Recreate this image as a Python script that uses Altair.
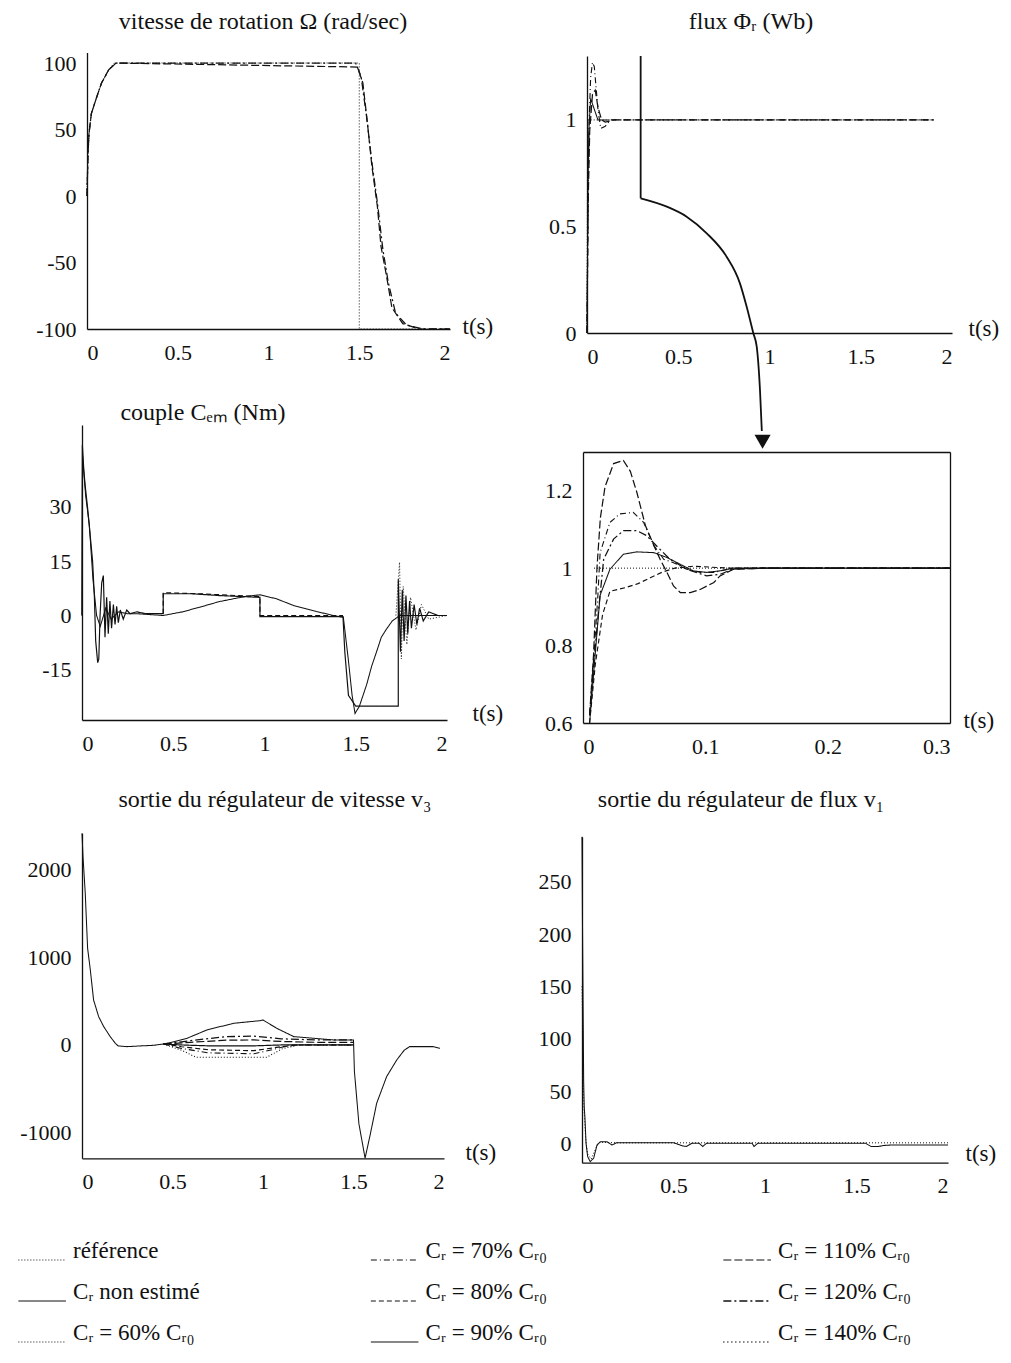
import altair as alt
import pandas as pd

FONT = "Liberation Serif"
INK = "#111111"
H = 1363
W = 1011

# ---------------- series styles ----------------
SERIES_KEYS = ["ref", "nonest", "60", "70", "80", "90", "110", "120", "140"]
SERIES_DASH = [[1, 2], [1, 0], [1, 2], [6, 3, 1, 3], [5, 3], [1, 0], [8, 3], [8, 3, 2, 3], [1, 3]]
SERIES_WIDTH = [1.0, 1.3, 1.0, 1.1, 1.1, 2.2, 1.1, 1.1, 1.0]

# ---------------- titles ----------------
TITLE_TL = "vitesse de rotation Ω (rad/sec)"
TITLE_TR = "flux  Φᵣ  (Wb)"
TITLE_ML = "couple Cₑₘ  (Nm)"
TITLE_BL = "sortie du régulateur de vitesse  v₃"
TITLE_BR = "sortie du régulateur de flux  v₁"

# ---------------- vitesse Ω ----------------
OM_REF_T = [0, 0.005, 0.011, 0.024, 0.05, 0.08, 0.12, 0.15, 1.5, 1.5, 2.0]
OM_REF_V = [0, 30, 47, 62, 73, 85, 95, 100, 100, -100, -100]
OM_110_T = [0, 0.005, 0.011, 0.024, 0.05, 0.08, 0.12, 0.16, 1.49, 1.52, 1.545, 1.57, 1.6, 1.62, 1.65, 1.68, 1.74, 1.83, 2.0]
OM_110_V = [0, 30, 47, 62, 73, 85, 95, 100, 97, 85, 55, 22, -8, -38, -60, -84, -96, -100, -100]
OM_120_T = [0, 0.005, 0.011, 0.024, 0.05, 0.08, 0.12, 0.16, 1.48, 1.51, 1.54, 1.57, 1.6, 1.63, 1.66, 1.7, 1.76, 1.85, 2.0]
OM_120_V = [0, 30, 47, 62, 73, 85, 95, 100, 100, 90, 60, 25, -5, -40, -65, -88, -97, -100, -100]

# ---------------- flux Φr ----------------
PHI_REF_T = [0, 0.004, 1.9]
PHI_REF_V = [0, 1.0, 1.0]
PHI_NONEST_T = [0, 0.003, 0.006, 0.01, 0.02, 0.04, 0.06, 0.1, 0.12]
PHI_NONEST_V = [0, 0.4, 0.7, 0.95, 1.1, 1.05, 1.0, 1.0, 1.0]
PHI_70_T = [0, 0.006, 0.012, 0.02, 0.03, 0.04, 0.05, 0.06, 0.075, 0.1, 0.13, 1.9]
PHI_70_V = [0, 0.6, 1.0, 1.2, 1.27, 1.25, 1.15, 1.05, 0.96, 0.97, 1.0, 1.0]
PHI_110_T = [0, 0.006, 0.015, 0.03, 0.045, 0.06, 0.08, 0.1, 0.15, 1.9]
PHI_110_V = [0, 0.6, 0.95, 1.12, 1.14, 1.06, 1.0, 0.99, 1.0, 1.0]
ZOOM_BAR_T = [0.294, 0.294]
ZOOM_BAR_V = [1.3, 0.632]
ZOOM_T = [0.294, 0.437, 0.546, 0.656, 0.765, 0.838, 0.875, 0.911, 0.93, 0.948, 0.958]
ZOOM_V = [0.632, 0.593, 0.546, 0.468, 0.358, 0.233, 0.123, 0.0, -0.064, -0.27, -0.46]
ARROW_T = [0.962]
ARROW_V = [-0.51]

# ---------------- couple Cem ----------------
CEM_90_T = [0, 0.002, 0.01, 0.017, 0.03, 0.045, 0.058, 0.068, 0.075, 0.086, 0.092, 0.099, 0.108, 0.117, 0.126,
            0.135, 0.144, 0.153, 0.162, 0.172, 0.181, 0.19, 0.199, 0.21, 0.226, 0.245, 0.263, 0.3, 0.35, 0.445,
            0.445, 0.6, 0.75, 0.975, 0.975, 1.2, 1.43, 1.44, 1.46, 1.5, 1.733, 1.733, 1.745, 1.755, 1.765,
            1.775, 1.785, 1.795, 1.805, 1.82, 1.835, 1.85, 1.87, 1.9, 1.95, 2.0]
CEM_90_V = [0, 47, 40, 36, 30, 22, 15, 5, -7, -13, -12, 0, 9, 11, -6,
            5, -5, 4, -3.5, 3, -2.5, 2.5, -2, 1.5, -1, 1.5, 0.5, 1, 0.5, 0.5,
            6, 6, 5.5, 5, -0.3, -0.3, -0.3, -10, -22, -25, -25, 10, -10, 7, -7,
            5.5, -5, 4, -3.5, 3, -2.5, 2, -1.5, 1, 0, 0]
CEM_NONEST_T = [0, 0.003, 0.02, 0.04, 0.06, 0.08, 0.1, 0.13, 0.16, 0.2, 0.25, 0.3, 0.445, 0.55, 0.646,
                0.75, 0.829, 0.9, 0.975, 1.066, 1.157, 1.285, 1.377, 1.432, 1.459, 1.48, 1.496, 1.52, 1.56,
                1.587, 1.614, 1.64, 1.669, 1.7, 1.742, 1.8, 2.0]
CEM_NONEST_V = [0, 44, 33, 25, 10, 0, -3, 2, -1, 1, 0.5, 0.5, 0, 1, 2.3,
                3.8, 4.6, 5.3, 5.7, 4.6, 2.8, 1.1, 0, -0.5, -12, -22, -27, -25, -19,
                -14, -10, -6, -3.7, -1.5, 0, 0, 0]
CEM_80_T = [0.445, 0.445, 0.64, 0.975, 0.975, 1.43]
CEM_80_V = [0.5, 6.3, 6.0, 5.2, 0, 0]
CEM_REF_T = [1.72, 1.74, 1.75, 1.76, 1.78, 1.8, 1.83, 1.86, 1.9, 2.0]
CEM_REF_V = [0, 14.7, -12, 8, -8, 5, -4, 3, -1, 0]

# ---------------- zoom flux (0 - 0.3 s) ----------------
ZF_110_T = [0.0054, 0.0087, 0.0114, 0.0142, 0.018, 0.025, 0.033, 0.0387, 0.044, 0.051, 0.058, 0.063, 0.0686,
            0.074, 0.0795, 0.0877, 0.0958, 0.107, 0.112, 0.123, 0.15, 0.3]
ZF_110_V = [0.62, 0.78, 1.0, 1.13, 1.21, 1.27, 1.278, 1.25, 1.196, 1.11, 1.058, 1.023, 0.989,
            0.954, 0.937, 0.937, 0.945, 0.963, 0.98, 0.997, 1.0, 1.0]
ZF_70_T = [0.0054, 0.009, 0.012, 0.014, 0.022, 0.03, 0.041, 0.0496, 0.058, 0.066, 0.074, 0.085, 0.096, 0.107,
           0.118, 0.14, 0.3]
ZF_70_V = [0.62, 0.78, 0.92, 1.04, 1.118, 1.14, 1.144, 1.118, 1.058, 1.023, 1.014, 0.997, 0.989, 0.989,
           0.997, 1.0, 1.0]
ZF_120_T = [0.0054, 0.009, 0.013, 0.0169, 0.025, 0.033, 0.044, 0.052, 0.06, 0.071, 0.085, 0.101, 0.112, 0.123,
            0.15, 0.3]
ZF_120_V = [0.62, 0.76, 0.9, 1.023, 1.075, 1.097, 1.097, 1.084, 1.058, 1.023, 0.997, 0.98, 0.984, 0.998,
            1.0, 1.0]
ZF_NONEST_T = [0.0054, 0.009, 0.014, 0.022, 0.033, 0.044, 0.058, 0.069, 0.0795, 0.09, 0.101, 0.112, 0.123, 0.15, 0.3]
ZF_NONEST_V = [0.6, 0.74, 0.93, 0.997, 1.036, 1.042, 1.04, 1.027, 1.01, 0.993, 0.989, 0.993, 1.0, 1.0, 1.0]
ZF_80_T = [0.0054, 0.01, 0.016, 0.022, 0.035, 0.045, 0.055, 0.065, 0.075, 0.09, 0.12, 0.3]
ZF_80_V = [0.6, 0.75, 0.88, 0.94, 0.95, 0.96, 0.975, 0.99, 1.0, 1.005, 1.0, 1.0]
ZF_REF_T = [0.009, 0.3]
ZF_REF_V = [1.0, 1.0]

# ---------------- v3 ----------------
V3_NONEST_T = [0, 0.0055, 0.018, 0.031, 0.046, 0.064, 0.092, 0.12, 0.156, 0.184, 0.2, 0.248, 0.322, 0.396, 0.45,
               0.488, 0.58, 0.69, 0.837, 0.984, 1.0, 1.076, 1.17, 1.28, 1.39, 1.5, 1.505, 1.53, 1.564, 1.59,
               1.628, 1.683, 1.739, 1.78, 1.81, 1.94, 1.978]
V3_NONEST_V = [2413, 2147, 1729, 1102, 855, 513, 323, 209, 95, 19, -11, -19, -11, -4, 11,
               27, 76, 171, 247, 277, 285, 190, 95, 76, 57, 57, -300, -900, -1290, -1045,
               -665, -361, -171, -60, -19, -19, -38]
V3_120_T = [0.45, 0.6, 0.8, 0.95, 1.1, 1.3, 1.5]
V3_120_V = [11, 50, 95, 100, 70, 57, 57]
V3_110_T = [0.45, 0.6, 0.8, 0.95, 1.1, 1.3, 1.5]
V3_110_V = [11, 30, 55, 57, 40, 30, 30]
V3_90_T = [0.45, 0.55, 0.7, 0.95, 1.1, 1.3, 1.5]
V3_90_V = [11, 0, -10, -10, 0, 0, 0]
V3_80_T = [0.45, 0.55, 0.7, 0.95, 1.1, 1.2, 1.5]
V3_80_V = [11, -20, -55, -65, -20, 0, 0]
V3_70_T = [0.45, 0.55, 0.7, 0.95, 1.05, 1.15, 1.5]
V3_70_V = [11, -40, -90, -100, -55, 0, 0]
V3_60_T = [0.45, 0.55, 0.63, 1.02, 1.11, 1.2, 1.5]
V3_60_V = [11, -60, -140, -140, -40, 0, 0]

# ---------------- v1 ----------------
V1_NONEST_T = [0, 0.003, 0.006, 0.009, 0.012, 0.016, 0.022, 0.031, 0.045, 0.064, 0.082, 0.1, 0.136, 0.164, 0.19,
               0.5, 0.55, 0.57, 0.6, 0.64, 0.66, 0.68, 0.93, 0.94, 0.96, 1.55, 1.58, 1.62, 1.65, 1.7, 2.0]
V1_NONEST_V = [293, 200, 130, 60, 35, 25, 0, -12.7, -17.5, -14, -1.6, 1.6, 1.6, -1.6, 0.6,
               0.6, -2.5, -3, 0, 0, -3, 0, 0, -3, 0, 0, -3, -3, -2, -1.5, -1.5]
V1_REF_T = [0, 0.004, 0.008, 0.012, 0.02, 0.03, 0.05, 0.08, 0.1, 0.2, 2.0]
V1_REF_V = [150, 110, 50, 30, 5, -10, -15, -3, 1, 0.5, 0.5]

# ---------------- legend ----------------
LEG_LABELS = ["référence", "Cᵣ  non estimé", "Cᵣ = 60% Cᵣ₀",
              "Cᵣ = 70% Cᵣ₀", "Cᵣ = 80% Cᵣ₀", "Cᵣ = 90% Cᵣ₀",
              "Cᵣ = 110% Cᵣ₀", "Cᵣ = 120% Cᵣ₀", "Cᵣ = 140% Cᵣ₀"]
LEG_KEYS = ["ref", "nonest", "60", "70", "80", "90", "110", "120", "140"]
LEG_COL = [0, 0, 0, 1, 1, 1, 2, 2, 2]
LEG_ROW = [0, 1, 2, 0, 1, 2, 0, 1, 2]


def frame(pairs):
    rows = []
    for key, ts, vs in pairs:
        for i, (t, v) in enumerate(zip(ts, vs)):
            rows.append({"s": key, "t": t, "v": v, "i": i})
    return pd.DataFrame(rows)


DASH = alt.StrokeDash("s:N", scale=alt.Scale(domain=SERIES_KEYS, range=SERIES_DASH), legend=None)
SW = alt.StrokeWidth("s:O", scale=alt.Scale(domain=SERIES_KEYS, range=SERIES_WIDTH), legend=None)
LBL = "'' + datum.value"


def xaxis(y_pix, values, title_x, title_dy=-3):
    return alt.Axis(orient="bottom", offset=y_pix - H, values=values, labelExpr=LBL,
                    labelPadding=13, title="t(s)", titleX=title_x, titleY=title_dy,
                    titleAlign="left", titleBaseline="middle", titleAngle=0)


def yaxis(x_pix, values):
    return alt.Axis(orient="left", offset=-x_pix, values=values, labelExpr=LBL,
                    labelPadding=11, title=None)


def sc(dom, rng):
    return alt.Scale(domain=dom, range=rng, zero=False, nice=False)


def panel(df, xdom, xr, ydom, yr, xax, yax):
    return alt.Chart(df).mark_line(color=INK).encode(
        x=alt.X("t:Q", scale=sc(xdom, xr), axis=xax),
        y=alt.Y("v:Q", scale=sc(ydom, yr), axis=yax),
        strokeDash=DASH, strokeWidth=SW, detail="s:N", order=alt.Order("i:Q"))


def title_text(txt, x, y):
    return alt.Chart(pd.DataFrame({"txt": [txt]})).mark_text(
        font=FONT, fontSize=24, color=INK, align="center", baseline="middle"
    ).encode(x=alt.value(x), y=alt.value(y), text="txt:N")


# panel geometry (pixel ranges of each plot)
TL_X, TL_Y = [87, 450], [329, 52.4]
TR_X, TR_Y = [587, 952], [333, 56]
ML_X, ML_Y = [82, 447], [720, 425]
MR_X, MR_Y = [583, 950], [723, 452]
BL_X, BL_Y = [82, 444], [1158.3, 833.3]
BR_X, BR_Y = [582, 948], [1162.7, 836.7]

layers = []

# top-left
layers.append(panel(
    frame([("ref", OM_REF_T, OM_REF_V), ("110", OM_110_T, OM_110_V), ("120", OM_120_T, OM_120_V)]),
    [0, 2], TL_X, [-100, 108], TL_Y,
    xaxis(329, [0, 0.5, 1, 1.5, 2], 462), yaxis(87, [-100, -50, 0, 50, 100])))

# top-right
layers.append(panel(
    frame([("ref", PHI_REF_T, PHI_REF_V), ("nonest", PHI_NONEST_T, PHI_NONEST_V),
           ("70", PHI_70_T, PHI_70_V), ("110", PHI_110_T, PHI_110_V)]),
    [0, 2], TR_X, [0, 1.3], TR_Y,
    xaxis(333, [0, 0.5, 1, 1.5, 2], 968, -5), yaxis(587, [0, 0.5, 1])))

layers.append(alt.Chart(pd.DataFrame({"t": ZOOM_BAR_T, "v": ZOOM_BAR_V})).mark_line(
    color=INK, strokeWidth=1.8).encode(
    x=alt.X("t:Q", scale=sc([0, 2], TR_X), axis=None),
    y=alt.Y("v:Q", scale=sc([0, 1.3], TR_Y), axis=None)))
layers.append(alt.Chart(pd.DataFrame({"t": ZOOM_T, "v": ZOOM_V})).mark_line(
    color=INK, strokeWidth=1.8, interpolate="monotone").encode(
    x=alt.X("t:Q", scale=sc([0, 2], TR_X), axis=None),
    y=alt.Y("v:Q", scale=sc([0, 1.3], TR_Y), axis=None)))
layers.append(alt.Chart(pd.DataFrame({"t": ARROW_T, "v": ARROW_V})).mark_point(
    shape="triangle-down", filled=True, size=260, color=INK, opacity=1).encode(
    x=alt.X("t:Q", scale=sc([0, 2], TR_X), axis=None),
    y=alt.Y("v:Q", scale=sc([0, 1.3], TR_Y), axis=None)))

# middle-left
layers.append(panel(
    frame([("nonest", CEM_NONEST_T, CEM_NONEST_V), ("90", CEM_90_T, CEM_90_V),
           ("80", CEM_80_T, CEM_80_V), ("ref", CEM_REF_T, CEM_REF_V)]),
    [0, 2], ML_X, [-28.8, 52.5], ML_Y,
    xaxis(720, [0, 0.5, 1, 1.5, 2], 472, -7), yaxis(82, [-15, 0, 15, 30])))

# middle-right (zoom of the flux)
zf_df = frame([("110", ZF_110_T, ZF_110_V), ("70", ZF_70_T, ZF_70_V), ("120", ZF_120_T, ZF_120_V),
               ("nonest", ZF_NONEST_T, ZF_NONEST_V), ("80", ZF_80_T, ZF_80_V), ("ref", ZF_REF_T, ZF_REF_V)])
layers.append(panel(zf_df, [0, 0.3], MR_X, [0.6, 1.3], MR_Y,
                    xaxis(723, [0, 0.1, 0.2, 0.3], 963, -3), yaxis(583, [0.6, 0.8, 1, 1.2])))
layers.append(alt.Chart(frame([("ref", ZF_REF_T, ZF_REF_V)])).mark_line(color=INK, opacity=0).encode(
    x=alt.X("t:Q", scale=sc([0, 0.3], MR_X),
            axis=alt.Axis(orient="top", offset=-452, labels=False, title=None)),
    y=alt.Y("v:Q", scale=sc([0.6, 1.3], MR_Y),
            axis=alt.Axis(orient="right", offset=950 - W, labels=False, title=None)),
    order=alt.Order("i:Q")))

# bottom-left
layers.append(panel(
    frame([("nonest", V3_NONEST_T, V3_NONEST_V), ("120", V3_120_T, V3_120_V), ("110", V3_110_T, V3_110_V),
           ("90", V3_90_T, V3_90_V), ("80", V3_80_T, V3_80_V), ("70", V3_70_T, V3_70_V),
           ("60", V3_60_T, V3_60_V)]),
    [0, 2], BL_X, [-1292, 2413], BL_Y,
    xaxis(1158.3, [0, 0.5, 1, 1.5, 2], 465, -6), yaxis(82, [-1000, 0, 1000, 2000])))

# bottom-right
layers.append(panel(
    frame([("nonest", V1_NONEST_T, V1_NONEST_V), ("ref", V1_REF_T, V1_REF_V)]),
    [0, 2], BR_X, [-18.5, 293], BR_Y,
    xaxis(1162.7, [0, 0.5, 1, 1.5, 2], 965, -9), yaxis(582, [0, 50, 100, 150, 200, 250])))

# titles
layers += [title_text(TITLE_TL, 263, 22), title_text(TITLE_TR, 751, 22), title_text(TITLE_ML, 203, 413),
           title_text(TITLE_BL, 275, 800), title_text(TITLE_BR, 741, 800)]

# legend
leg_df = pd.DataFrame({"label": LEG_LABELS, "s": LEG_KEYS, "col": LEG_COL, "row": LEG_ROW})
LEG_X = sc([0, 2], [73, 778])
LEG_Y = sc([0, 2], [1251, 1333])
layers.append(alt.Chart(leg_df).transform_calculate(
    x1="datum.col - 0.155", x2="datum.col - 0.02").mark_rule(color=INK, yOffset=9).encode(
    x=alt.X("x1:Q", scale=LEG_X, axis=None), x2="x2:Q",
    y=alt.Y("row:Q", scale=LEG_Y, axis=None),
    strokeDash=DASH, strokeWidth=SW))
layers.append(alt.Chart(leg_df).mark_text(
    font=FONT, fontSize=23, color=INK, align="left", baseline="middle").encode(
    x=alt.X("col:Q", scale=LEG_X, axis=None),
    y=alt.Y("row:Q", scale=LEG_Y, axis=None),
    text="label:N"))

chart = alt.layer(*layers).resolve_scale(x="independent", y="independent").resolve_axis(
    x="independent", y="independent").properties(
    width=W, height=H, padding=0, autosize=alt.AutoSizeParams(type="none"),
    background="white").configure_axis(
    labelFont=FONT, labelFontSize=22, labelColor=INK, domainColor=INK, domainWidth=1.3,
    ticks=False, grid=False, titleFont=FONT, titleFontSize=23, titleFontWeight="normal",
    titleColor=INK).configure_view(stroke=None)

chart.save("out.html", embed_options={"renderer": "svg", "actions": False})
